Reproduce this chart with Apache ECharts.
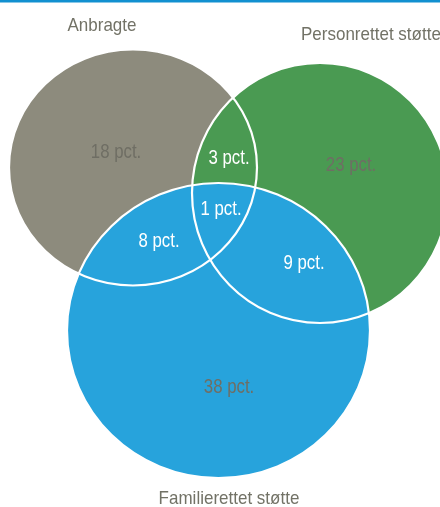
<!DOCTYPE html>
<html>
<head>
<meta charset="utf-8">
<script src="https://cdn.jsdelivr.net/npm/echarts@6/dist/echarts.min.js"></script>
<style>
html,body{margin:0;padding:0;background:#fff;}
#chart{width:440px;height:507px;}
</style>
</head>
<body>
<div id="chart"></div>
<script>
// ---- data ----
const setNames = ['Anbragte', 'Personrettet støtte', 'Familierettet støtte'];
const regionNames = ['Kun anbragte', 'Kun personrettet', 'Kun familierettet',
  'Anbragte + personrettet', 'Anbragte + familierettet', 'Personrettet + familierettet', 'Alle tre'];
const regionValues = [18, 23, 38, 3, 8, 9, 1];
const valueSuffix = ' pct.';

// ---- layout (axis units = pixels of the hidden grid) ----
const circleLayout = [
  {cx: 133, cy: 167.5, rx: 124, ry: 118},
  {cx: 320, cy: 193, rx: 128, ry: 130},
  {cx: 218.5, cy: 330.5, rx: 151.5, ry: 147.5}
];
const setLabelLayout = [
  {x: 102, y: 26, align: 'center'},
  {x: 301, y: 35, align: 'left'},
  {x: 229, y: 499, align: 'center'}
];
const regionLabelLayout = [
  {x: 116, y: 152, dark: true},
  {x: 351, y: 165, dark: true},
  {x: 229, y: 387, dark: true},
  {x: 229, y: 158, dark: false},
  {x: 159, y: 241, dark: false},
  {x: 304, y: 263, dark: false},
  {x: 221, y: 209, dark: false}
];
const colors = ['#8d8b7d', '#4a9a52', '#27a3dc'];

const circleData = circleLayout.map((c, i) => ({name: setNames[i], value: [c.cx, c.cy, c.rx, c.ry]}));
const regionData = regionValues.map((v, i) => ({
  name: regionNames[i],
  value: [regionLabelLayout[i].x, regionLabelLayout[i].y, v, regionLabelLayout[i].dark ? 1 : 0]
}));
const setLabelData = setNames.map((n, i) => ({name: n, value: [setLabelLayout[i].x, setLabelLayout[i].y, i]}));

function ellipseItem(fill) {
  return function (params, api) {
    const c = api.coord([api.value(0), api.value(1)]);
    const s = api.size([api.value(2), api.value(3)]);
    return {
      type: 'ellipse',
      shape: {cx: c[0], cy: c[1], rx: s[0], ry: s[1]},
      style: fill
        ? {fill: colors[params.dataIndex], stroke: null}
        : {fill: null, stroke: '#ffffff', lineWidth: 2.2}
    };
  };
}

const chart = echarts.init(document.getElementById('chart'), null, {renderer: 'canvas'});
chart.setOption({
  animation: false,
  backgroundColor: '#ffffff',
  grid: {left: 0, right: 0, top: 0, bottom: 0},
  xAxis: {type: 'value', min: 0, max: 440, show: false},
  yAxis: {type: 'value', min: 0, max: 507, inverse: true, show: false},
  graphic: [{
    type: 'rect', left: 0, top: 0, z: 100,
    shape: {width: 440, height: 2.5},
    style: {fill: '#1290d0'}
  }],
  series: [
    {type: 'custom', renderItem: ellipseItem(true), data: circleData, z: 1},
    {type: 'custom', renderItem: ellipseItem(false), data: circleData, z: 2},
    {
      type: 'custom', z: 3, data: regionData,
      renderItem: function (params, api) {
        const c = api.coord([api.value(0), api.value(1)]);
        const dark = api.value(3) === 1;
        return {
          type: 'text', x: c[0], y: c[1], scaleX: 0.8, scaleY: 1,
          style: {
            text: api.value(2) + valueSuffix,
            fill: dark ? '#6f6e64' : '#ffffff',
            font: '21px "Liberation Sans", Arial, sans-serif',
            align: 'center', verticalAlign: 'middle'
          }
        };
      }
    },
    {
      type: 'custom', z: 3, data: setLabelData,
      renderItem: function (params, api) {
        const c = api.coord([api.value(0), api.value(1)]);
        const i = api.value(2);
        return {
          type: 'text', x: c[0], y: c[1], scaleX: 1, scaleY: 1.12,
          style: {
            text: setNames[i],
            fill: '#727266',
            font: '17px "Liberation Sans", Arial, sans-serif',
            align: setLabelLayout[i].align, verticalAlign: 'middle'
          }
        };
      }
    }
  ]
});
</script>
</body>
</html>
